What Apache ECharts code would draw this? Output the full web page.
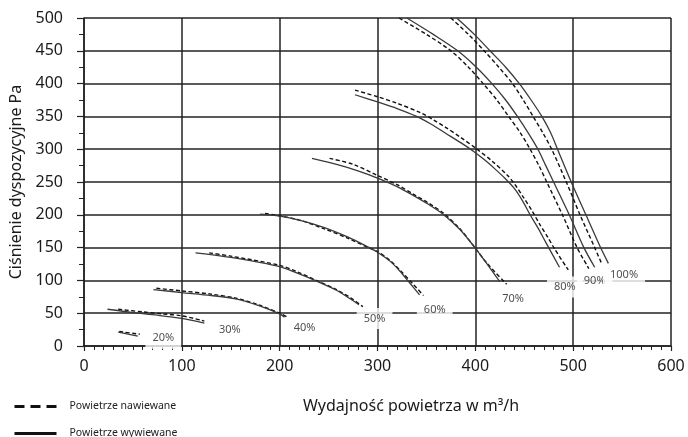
<!DOCTYPE html>
<html>
<head>
<meta charset="utf-8">
<script src="https://cdn.jsdelivr.net/npm/echarts@6/dist/echarts.min.js"></script>
<style>
html,body{margin:0;padding:0;background:#fff}
#chart{width:688px;height:437px}
</style>
</head>
<body>
<div id="chart"></div>
<script>
// krzywe wentylatora – powietrze nawiewane (przerywana) / wywiewane (ciągła)
const nawiew20 = [[36,22],[57,18]];
const wywiew20 = [[35,21],[55,15]];
const nawiew30 = [[35,56],[60,52],[80,49],[100,46],[123,38]];
const wywiew30 = [[24,56],[50,51],[75,47],[100,42],[123,35]];
const nawiew40 = [[74,88],[100,84],[130,79],[155,73],[178,63],[200,50],[208,44]];
const wywiew40 = [[71,86],[100,81.5],[130,77],[155,72],[178,62],[200,49],[205,44]];
const nawiew50 = [[128,142],[150,137],[200,123],[218,113],[236,101],[258,86],[273,73],[285,60]];
const wywiew50 = [[114,142],[150,135],[200,121],[218,111],[236,100],[258,85],[272,72],[281,63]];
const nawiew60 = [[185,202],[200,198.5],[220,192],[245,179],[270,164],[289,151],[300,144],[313,130],[324,114],[336,95],[347,77]];
const wywiew60 = [[180,201],[200,198],[220,192],[245,181],[270,166],[289,152],[300,143],[313,129],[323,114],[333,96],[343,78]];
const nawiew70 = [[251,286],[275,277],[300,260],[320,246],[336,232],[352,218],[367,203],[384,179],[398,153],[412,126],[432,94]];
const wywiew70 = [[233,286],[260,276],[280,267],[300,256],[320,243],[336,230],[352,216],[367,201],[384,178],[398,153],[411,127],[425,98]];
const nawiew80 = [[277,390],[300,380],[320,370],[345,355],[358,344],[370,333],[385,318],[400,302],[417,282],[433,260],[441,245],[449,227],[458,206],[466,185],[474,166],[481,148],[495,116]];
const wywiew80 = [[277,383],[300,372],[320,362],[340,350],[355,338],[370,324],[385,310],[398,297],[410,283],[420,270],[430,256],[440,240],[448,222],[456,200],[464,180],[472,158],[486,120]];
const nawiew90 = [[322,500],[350,475],[375,450],[393,425],[408,400],[422,375],[434,350],[446,325],[456,300],[465,275],[473,250],[489,200],[504,150],[516,118]];
const wywiew90 = [[330,500],[357,475],[382,450],[401,425],[417,400],[431,375],[443,350],[454,325],[464,300],[472,275],[480,250],[496,200],[511,150],[522,120]];
const nawiew100 = [[375,500],[393,475],[409,450],[424,425],[438,400],[449,375],[459,350],[469,325],[478,300],[493,250],[507,200],[522,150],[529,126]];
const wywiew100 = [[381,500],[399,475],[415,450],[431,425],[445,400],[457,375],[468,350],[477,325],[484,300],[498,250],[513,200],[528,150],[536,126]];

const nawiewCurves = [nawiew20, nawiew30, nawiew40, nawiew50, nawiew60, nawiew70, nawiew80, nawiew90, nawiew100];
const wywiewCurves = [wywiew20, wywiew30, wywiew40, wywiew50, wywiew60, wywiew70, wywiew80, wywiew90, wywiew100];

// etykiety biegów
const labelText = ['20%','30%','40%','50%','60%','70%','80%','90%','100%'];
const labelX = [81, 149, 225.5, 297, 358.5, 438.5, 491.5, 522, 552];
const labelY = [12, 25, 27.5, 42, 54.5, 72.5, 90, 99, 108];

const NAME_N = 'Powietrze nawiewane';
const NAME_W = 'Powietrze wywiewane';
const FONT = 'Noto Sans';

const chart = echarts.init(document.getElementById('chart'), null, {renderer:'canvas'});

const series = [];
nawiewCurves.forEach(c => series.push({
    name: NAME_N, type:'line', data:c, symbol:'none', smooth:0.3,
    color:'#111', lineStyle:{color:'#111', width:1.4, type:[4,2.5]}, z:3, silent:true
}));
wywiewCurves.forEach(c => series.push({
    name: NAME_W, type:'line', data:c, symbol:'none', smooth:0.3,
    color:'#111', lineStyle:{color:'#3a3a3a', width:1.3}, z:3, silent:true
}));
series.push({
    type:'scatter', silent:true, z:10, symbolSize:1,
    itemStyle:{color:'rgba(0,0,0,0)'},
    data: labelText.map((t,i) => [labelX[i], labelY[i], t]),
    label:{
        show:true, position:'inside', formatter: p => p.data[2],
        backgroundColor:'#fff', padding:[5,7], fontSize:11, color:'#222', fontFamily:FONT
    }
});

// legenda – dwa osobne bloki, żeby nie zawijała się w kolumny
function legendBox(name, top, type){
    return {
        orient:'vertical', left:8, top:top, itemWidth:42, itemHeight:10,
        selectedMode:false,
        itemStyle:{opacity:0},
        data:[{name:name, itemStyle:{opacity:0}, lineStyle:{width:3, type:type, color:'#111'}}],
        textStyle:{fontSize:10.5, color:'#222', padding:[0,0,0,8]}
    };
}

chart.setOption({
    backgroundColor:'#fff',
    animation:false,
    textStyle:{fontFamily:FONT},
    grid:{left:84, right:17, top:18, bottom:91},
    legend:[legendBox(NAME_N, 396, [10,6]), legendBox(NAME_W, 423, 'solid')],
    xAxis:{
        type:'value', min:0, max:600, interval:100,
        name:'Wydajność powietrza w m³/h', nameLocation:'middle', nameGap:52,
        nameTextStyle:{fontSize:16, color:'#1a1a1a', padding:[0,0,0,67]},
        axisLine:{show:true, lineStyle:{color:'#222', width:1.5}},
        axisTick:{show:true, length:5, lineStyle:{color:'#222', width:1.2}},
        minorTick:{show:true, splitNumber:10, length:4, lineStyle:{color:'#222', width:1}},
        axisLabel:{fontSize:16, color:'#1a1a1a', margin:12},
        splitLine:{show:true, lineStyle:{color:'#222', width:1.5}}
    },
    yAxis:{
        type:'value', min:0, max:500, interval:50,
        name:'Ciśnienie dyspozycyjne Pa', nameLocation:'middle', nameGap:60, nameRotate:90,
        nameTextStyle:{fontSize:16, color:'#1a1a1a'},
        axisLine:{show:true, lineStyle:{color:'#222', width:1.5}},
        axisTick:{show:true, length:7, lineStyle:{color:'#222', width:1.2}},
        minorTick:{show:true, splitNumber:2, length:5, lineStyle:{color:'#222', width:1}},
        axisLabel:{fontSize:16, color:'#1a1a1a', margin:21},
        splitLine:{show:true, lineStyle:{color:'#222', width:1.5}}
    },
    series: series
});
window.addEventListener('resize', () => chart.resize());
</script>
</body>
</html>
